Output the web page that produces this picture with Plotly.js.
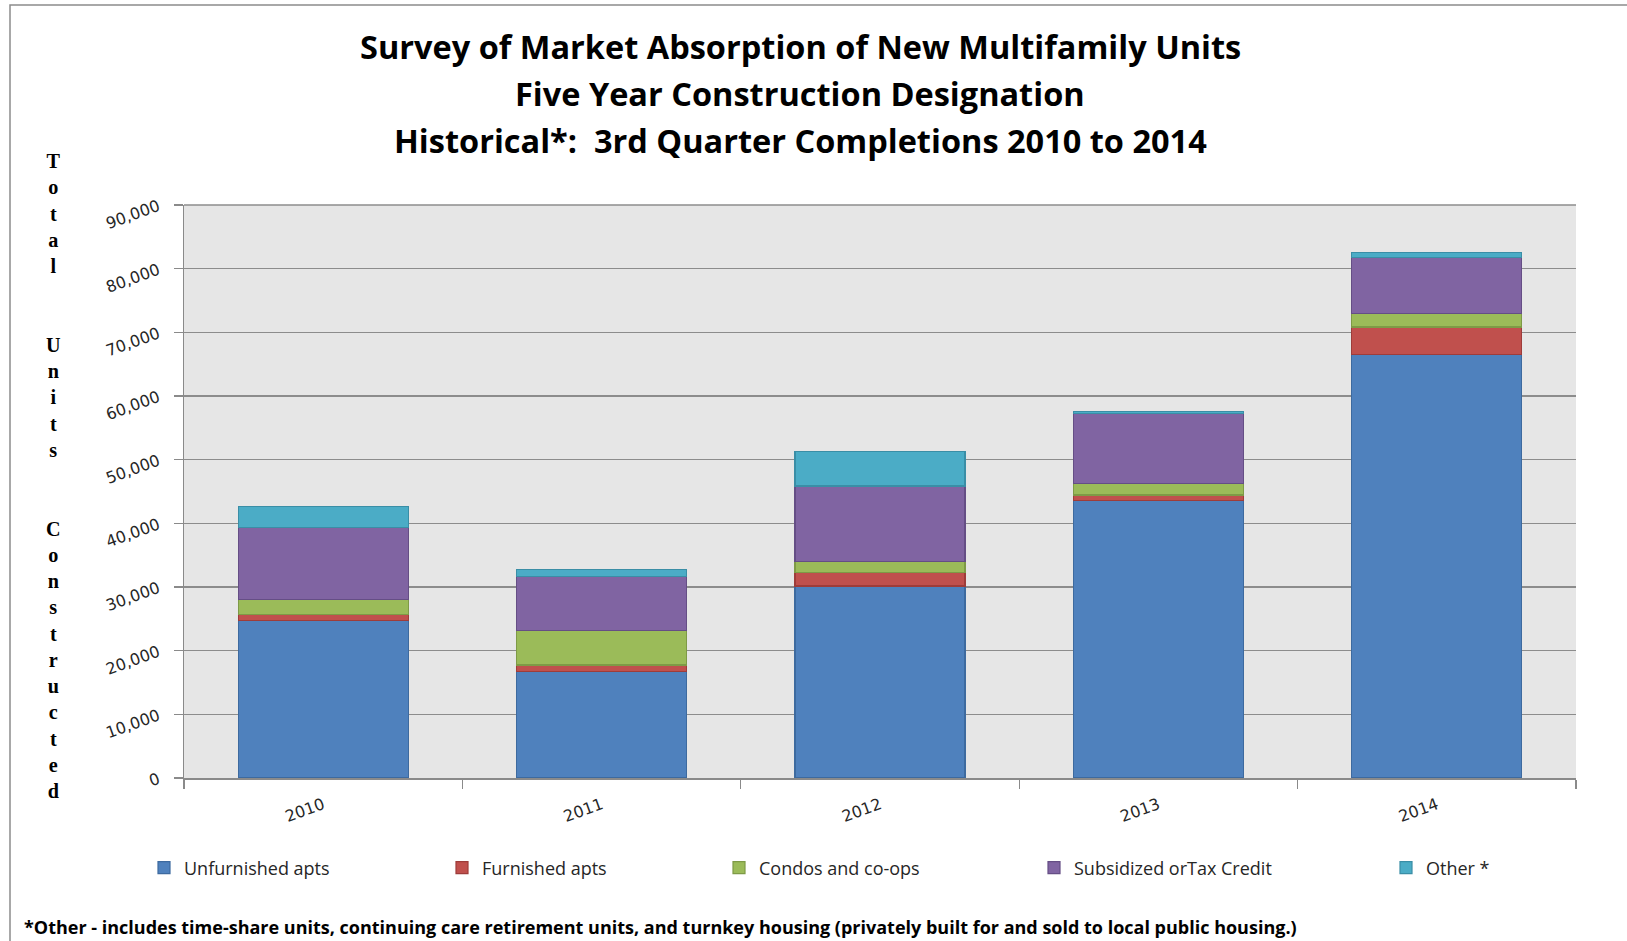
<!DOCTYPE html>
<html>
<head>
<meta charset="utf-8">
<script src="https://cdn.plot.ly/plotly-3.0.1.min.js"></script>
<style>html,body{margin:0;padding:0;background:#fff;}#chart{width:1627px;height:941px;}</style>
</head>
<body>
<div id="chart"></div>
<script>
const years = ["2010", "2011", "2012", "2013", "2014"];
const unfurnished = [24800, 16700, 30150, 43600, 66550];
const furnished = [900, 1050, 2100, 860, 4300];
const condos = [2300, 5450, 1750, 1850, 2050];
const subsidized = [11400, 8500, 11850, 10900, 8800];
const other = [3300, 1100, 5450, 400, 900];
const seriesNames = ["Unfurnished apts", "Furnished apts", "Condos and co-ops", "Subsidized orTax Credit", "Other *"];
const yTickVals = [0, 10000, 20000, 30000, 40000, 50000, 60000, 70000, 80000, 90000];
const yTickText = ["0", "10,000", "20,000", "30,000", "40,000", "50,000", "60,000", "70,000", "80,000", "90,000"];
const titleLines = ["Survey of Market Absorption of New Multifamily Units", "Five Year Construction Designation", "Historical*:  3rd Quarter Completions 2010 to 2014"];
const yTitle = "Total  Units  Constructed";
const footnote = "*Other - includes time-share units, continuing care retirement units, and turnkey housing (privately built for and sold to local public housing.)";

const fills = ["#4F81BD", "#C0504D", "#9BBB59", "#8064A2", "#4BACC6"];
const edges = ["#3D6A9F", "#9E3C3A", "#7E9A46", "#654E85", "#3A8EA6"];
const seriesData = [unfurnished, furnished, condos, subsidized, other];
const legendIds = ["legend", "legend2", "legend3", "legend4", "legend5"];
const legendX = [144, 442, 719, 1034, 1386];

const W = 1627, H = 941;
const L = 184, R = 1576, T = 205, B = 778;
const px2x = p => (p - L) / (R - L);
const px2y = p => (B - p) / (B - T);
const FONT = "'Open Sans', Lato, sans-serif";
const TICKFONT = "'DejaVu Sans', Verdana, sans-serif";

const traces = seriesData.map((vals, i) => ({
  type: "bar",
  name: seriesNames[i],
  x: years,
  y: vals,
  marker: {color: fills[i], line: {color: edges[i], width: 1.2}},
  legend: legendIds[i],
  hoverinfo: "y+name"
}));

const legendFont = {family: FONT, size: 18, color: "#262626"};
const layout = {
  width: W, height: H,
  margin: {l: L, r: W - R, t: T, b: H - B, pad: 0},
  paper_bgcolor: "#ffffff",
  plot_bgcolor: "#e6e6e6",
  barmode: "stack",
  bargap: 0.39,
  showlegend: true,
  font: {family: FONT, color: "#262626"},
  xaxis: {
    type: "category",
    range: [-0.5, 4.5],
    showline: true, linecolor: "#8a8a8a", linewidth: 1.5,
    ticks: "outside", ticklen: 9, tickcolor: "#8a8a8a", tickwidth: 1.2,
    tickson: "boundaries",
    tickangle: -20,
    ticklabelstandoff: 10,
    tickfont: {family: TICKFONT, size: 16, color: "#262626"},
    showgrid: false, zeroline: false
  },
  yaxis: {
    range: [0, 90000],
    tickvals: yTickVals, ticktext: yTickText,
    showline: true, linecolor: "#8a8a8a", linewidth: 1.5,
    ticks: "outside", ticklen: 9, tickcolor: "#8a8a8a", tickwidth: 1.2,
    tickangle: -20,
    ticklabelstandoff: 12,
    tickfont: {family: TICKFONT, size: 16, color: "#262626"},
    showgrid: true, gridcolor: "#8c8c8c", gridwidth: 1.5,
    zeroline: false
  },
  shapes: [
    {type: "rect", xref: "paper", yref: "paper", x0: px2x(10), x1: px2x(1700), y0: px2y(1000), y1: px2y(5),
     line: {color: "#8c8c8c", width: 1.5}, fillcolor: "rgba(0,0,0,0)", layer: "below"},
    {type: "line", xref: "paper", yref: "paper", x0: 0, x1: 1, y0: 1, y1: 1, line: {color: "#8c8c8c", width: 1.5}}
  ],
  annotations: [
    ...titleLines.map((t, i) => ({
      text: "<b>" + t + "</b>", xref: "paper", yref: "paper",
      x: px2x(800), y: px2y([46, 93, 140][i]), xanchor: "center", yanchor: "middle",
      showarrow: false,
      font: {family: FONT, size: 32.5, color: "#000000"}
    })),
    {
      text: "<b>" + yTitle.split("").join("<br>") + "</b>",
      xref: "paper", yref: "paper", x: px2x(53), y: px2y(476),
      xanchor: "center", yanchor: "middle", showarrow: false, align: "center",
      font: {family: "'Liberation Serif', 'DejaVu Serif', serif", size: 20.2, color: "#000000"}
    },
    {
      text: "<b>" + footnote + "</b>", xref: "paper", yref: "paper",
      x: px2x(22), y: px2y(927), xanchor: "left", yanchor: "middle", showarrow: false,
      font: {family: FONT, size: 18, color: "#000000"}
    }
  ]
};
legendIds.forEach((id, i) => {
  layout[id] = {
    orientation: "h", xref: "container", yref: "container",
    x: legendX[i] / W, y: 1 - 868 / H, xanchor: "left", yanchor: "middle",
    bgcolor: "rgba(0,0,0,0)", borderwidth: 0,
    font: legendFont, itemwidth: 30
  };
});

Plotly.newPlot("chart", traces, layout, {displayModeBar: false, staticPlot: true});
</script>
</body>
</html>
